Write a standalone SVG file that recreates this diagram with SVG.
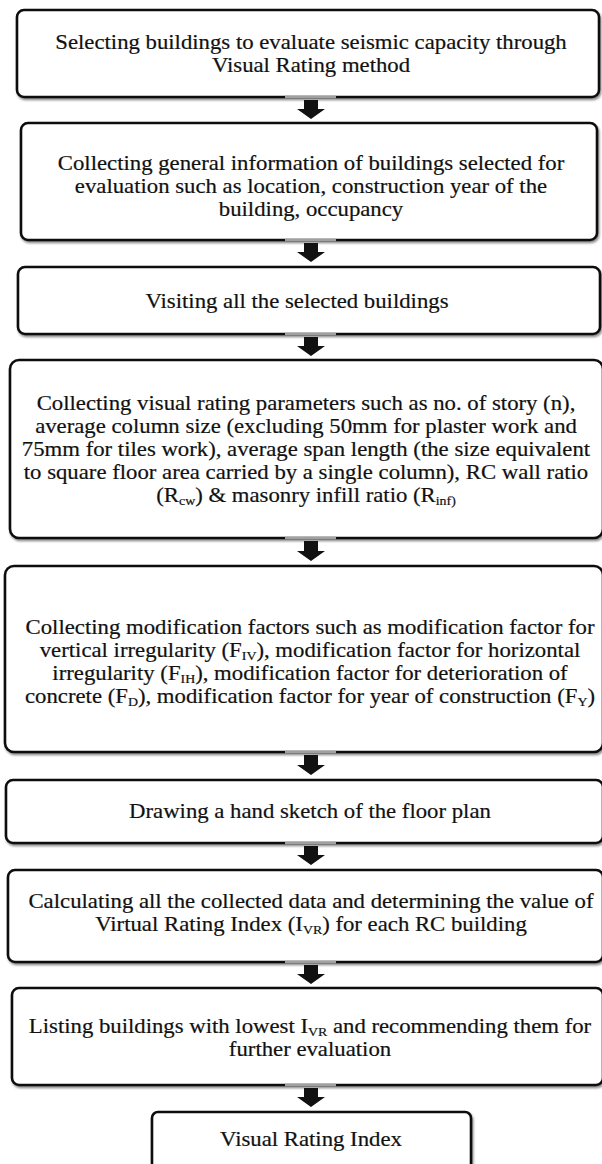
<svg xmlns="http://www.w3.org/2000/svg" width="602" height="1164" viewBox="0 0 602 1164">
  <style>
    .box { fill: #ffffff; stroke: #111111; stroke-width: 2.6; filter: url(#shadow); }
    .t { font-family: "Liberation Serif", "Times New Roman", serif; font-size: 20.5px; fill: #111111; stroke: #111111; stroke-width: 0.2; text-anchor: middle; }
    .sub { font-size: 12.5px; }
    .arrow { fill: #111111; }
    .gap { fill: #a0a0a0; }
  </style>
  <defs>
    <filter id="shadow" x="-5%" y="-10%" width="115%" height="130%">
      <feDropShadow dx="1.2" dy="2" stdDeviation="1.3" flood-color="#000000" flood-opacity="0.45"/>
    </filter>
  </defs>
  <rect width="602" height="1164" fill="#ffffff"/>

  <g id="n1">
    <rect class="box" x="17" y="10" width="582" height="87" rx="7"/>
    <g transform="translate(311 0) scale(1.11 1)">
      <text class="t" x="0" y="49">Selecting buildings to evaluate seismic capacity through</text>
      <text class="t" x="0" y="72">Visual Rating method</text>
    </g>
  </g>

  <g id="n2">
    <rect class="box" x="21" y="123" width="576" height="117" rx="7"/>
    <g transform="translate(311 0) scale(1.11 1)">
      <text class="t" x="0" y="170">Collecting general information of buildings selected for</text>
      <text class="t" x="0" y="193">evaluation such as location, construction year of the</text>
      <text class="t" x="0" y="216">building, occupancy</text>
    </g>
  </g>

  <g id="n3">
    <rect class="box" x="18" y="267" width="582" height="67" rx="7"/>
    <g transform="translate(297 0) scale(1.11 1)">
      <text class="t" x="0" y="308">Visiting all the selected buildings</text>
    </g>
  </g>

  <g id="n4">
    <rect class="box" x="10" y="360" width="593" height="178" rx="9"/>
    <g transform="translate(306 0) scale(1.11 1)">
      <text class="t" x="0" y="410">Collecting visual rating parameters such as no. of story (n),</text>
      <text class="t" x="0" y="433">average column size (excluding 50mm for plaster work and</text>
      <text class="t" x="0" y="456">75mm for tiles work), average span length (the size equivalent</text>
      <text class="t" x="0" y="479">to square floor area carried by a single column), RC wall ratio</text>
      <text class="t" x="0" y="502">(R<tspan class="sub" dy="3">cw</tspan><tspan dy="-3">) &amp; masonry infill ratio (R</tspan><tspan class="sub" dy="3">inf)</tspan></text>
    </g>
  </g>

  <g id="n5">
    <rect class="box" x="5" y="566" width="598" height="186" rx="9"/>
    <g transform="translate(310 0) scale(1.11 1)">
      <text class="t" x="0" y="634">Collecting modification factors such as modification factor for</text>
      <text class="t" x="0" y="657">vertical irregularity (F<tspan class="sub" dy="3">IV</tspan><tspan dy="-3">), modification factor for horizontal</tspan></text>
      <text class="t" x="0" y="680">irregularity (F<tspan class="sub" dy="3">IH</tspan><tspan dy="-3">), modification factor for deterioration of</tspan></text>
      <text class="t" x="0" y="703">concrete (F<tspan class="sub" dy="3">D</tspan><tspan dy="-3">), modification factor for year of construction (F</tspan><tspan class="sub" dy="3">Y</tspan><tspan dy="-3">)</tspan></text>
    </g>
  </g>

  <g id="n6">
    <rect class="box" x="6" y="780" width="597" height="63" rx="7"/>
    <g transform="translate(310 0) scale(1.11 1)">
      <text class="t" x="0" y="818">Drawing a hand sketch of the floor plan</text>
    </g>
  </g>

  <g id="n7">
    <rect class="box" x="8" y="870" width="595" height="92" rx="7"/>
    <g transform="translate(311 0) scale(1.11 1)">
      <text class="t" x="0" y="908">Calculating all the collected data and determining the value of</text>
      <text class="t" x="0" y="931">Virtual Rating Index (I<tspan class="sub" dy="3">VR</tspan><tspan dy="-3">) for each RC building</tspan></text>
    </g>
  </g>

  <g id="n8">
    <rect class="box" x="12" y="988" width="591" height="97" rx="7"/>
    <g transform="translate(310 0) scale(1.11 1)">
      <text class="t" x="0" y="1033">Listing buildings with lowest I<tspan class="sub" dy="3">VR</tspan><tspan dy="-3"> and recommending them for</tspan></text>
      <text class="t" x="0" y="1056">further evaluation</text>
    </g>
  </g>

  <g id="n9">
    <rect class="box" x="152" y="1112" width="319" height="60" rx="6"/>
    <g transform="translate(311 0) scale(1.11 1)">
      <text class="t" x="0" y="1146">Visual Rating Index</text>
    </g>
  </g>

  <g id="connectors">
    <rect class="gap" x="285" y="95.7" width="51" height="2.6"/>
    <path class="arrow" d="M304,100 H318 V109 H325 L311,119 L297,109 H304 Z"/>
    <rect class="gap" x="285" y="238.7" width="51" height="2.6"/>
    <path class="arrow" d="M304,243 H318 V252 H325 L311,262 L297,252 H304 Z"/>
    <rect class="gap" x="285" y="332.7" width="51" height="2.6"/>
    <path class="arrow" d="M304,337 H318 V346 H325 L311,356 L297,346 H304 Z"/>
    <rect class="gap" x="285" y="536.7" width="51" height="2.6"/>
    <path class="arrow" d="M304,541 H318 V551 H325 L311,561 L297,551 H304 Z"/>
    <rect class="gap" x="285" y="750.7" width="51" height="2.6"/>
    <path class="arrow" d="M304,755 H318 V765 H325 L311,775 L297,765 H304 Z"/>
    <rect class="gap" x="285" y="841.7" width="51" height="2.6"/>
    <path class="arrow" d="M304,846 H318 V855 H325 L311,865 L297,855 H304 Z"/>
    <rect class="gap" x="285" y="960.7" width="51" height="2.6"/>
    <path class="arrow" d="M304,965 H318 V974 H325 L311,984 L297,974 H304 Z"/>
    <rect class="gap" x="285" y="1083.7" width="51" height="2.6"/>
    <path class="arrow" d="M304,1088 H318 V1097 H325 L311,1107 L297,1097 H304 Z"/>
  </g>
</svg>
